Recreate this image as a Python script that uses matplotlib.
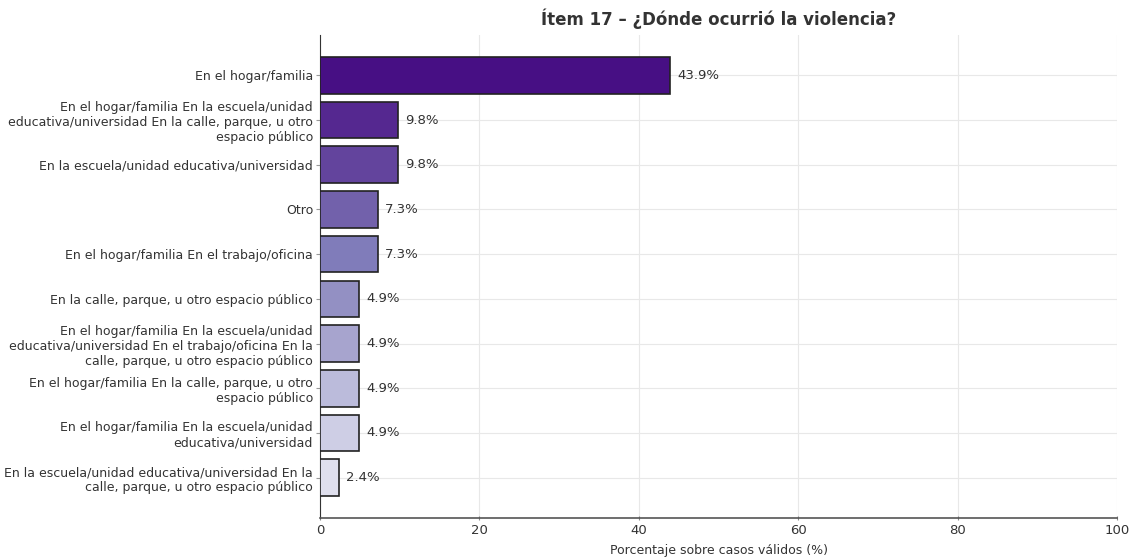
import matplotlib
matplotlib.use("Agg")
import matplotlib.pyplot as plt
import numpy as np

categories = [
    "En el hogar/familia",
    "En el hogar/familia En la escuela/unidad\neducativa/universidad En la calle, parque, u otro\nespacio público",
    "En la escuela/unidad educativa/universidad",
    "Otro",
    "En el hogar/familia En el trabajo/oficina",
    "En la calle, parque, u otro espacio público",
    "En el hogar/familia En la escuela/unidad\neducativa/universidad En el trabajo/oficina En la\ncalle, parque, u otro espacio público",
    "En el hogar/familia En la calle, parque, u otro\nespacio público",
    "En el hogar/familia En la escuela/unidad\neducativa/universidad",
    "En la escuela/unidad educativa/universidad En la\ncalle, parque, u otro espacio público",
]
values = [43.9, 9.8, 9.8, 7.3, 7.3, 4.9, 4.9, 4.9, 4.9, 2.4]
title = "Ítem 17 – ¿Dónde ocurrió la violencia?"
xlabel = "Porcentaje sobre casos válidos (%)"

fig = plt.figure(figsize=(11.33, 5.58), dpi=100)
ax = fig.add_axes([320/1133, 1-518/558, (1117-320)/1133, (518-35)/558])

n = len(values)
cmap = plt.get_cmap("Purples")
colors = [cmap(v) for v in np.linspace(0.95, 0.22, n)]
y = np.arange(n)
bars = ax.barh(y, values, height=0.82, color=colors, edgecolor="#222222", linewidth=1.2, zorder=3)
ax.set_yticks(y)
ax.set_yticklabels(categories, fontsize=9, color="#333333")
ax.invert_yaxis()
ax.set_xlim(0, 100)
ax.set_xticks([0, 20, 40, 60, 80, 100])
ax.tick_params(axis="x", labelsize=9.5, colors="#333333", length=3, direction="inout", pad=3, color="#888888")
ax.tick_params(axis="y", length=3, pad=2, color="#999999")
ax.set_xlabel(xlabel, fontsize=9, color="#333333", labelpad=5)
ax.set_title(title, fontsize=12, fontweight="bold", color="#333333", pad=7)
ax.grid(True, color="#e8e8e8", linewidth=0.8, zorder=0)
ax.set_axisbelow(True)
for s in ["top", "right"]:
    ax.spines[s].set_visible(False)
ax.spines["left"].set_color("#333333")
ax.spines["bottom"].set_color("#555555")
ax.spines["bottom"].set_linewidth(1.2)
for b, v in zip(bars, values):
    ax.text(v + 0.9, b.get_y() + b.get_height()/2, f"{v:.1f}%", va="center", ha="left", fontsize=9.5, color="#333333")

fig.savefig("out.png", dpi=100)
